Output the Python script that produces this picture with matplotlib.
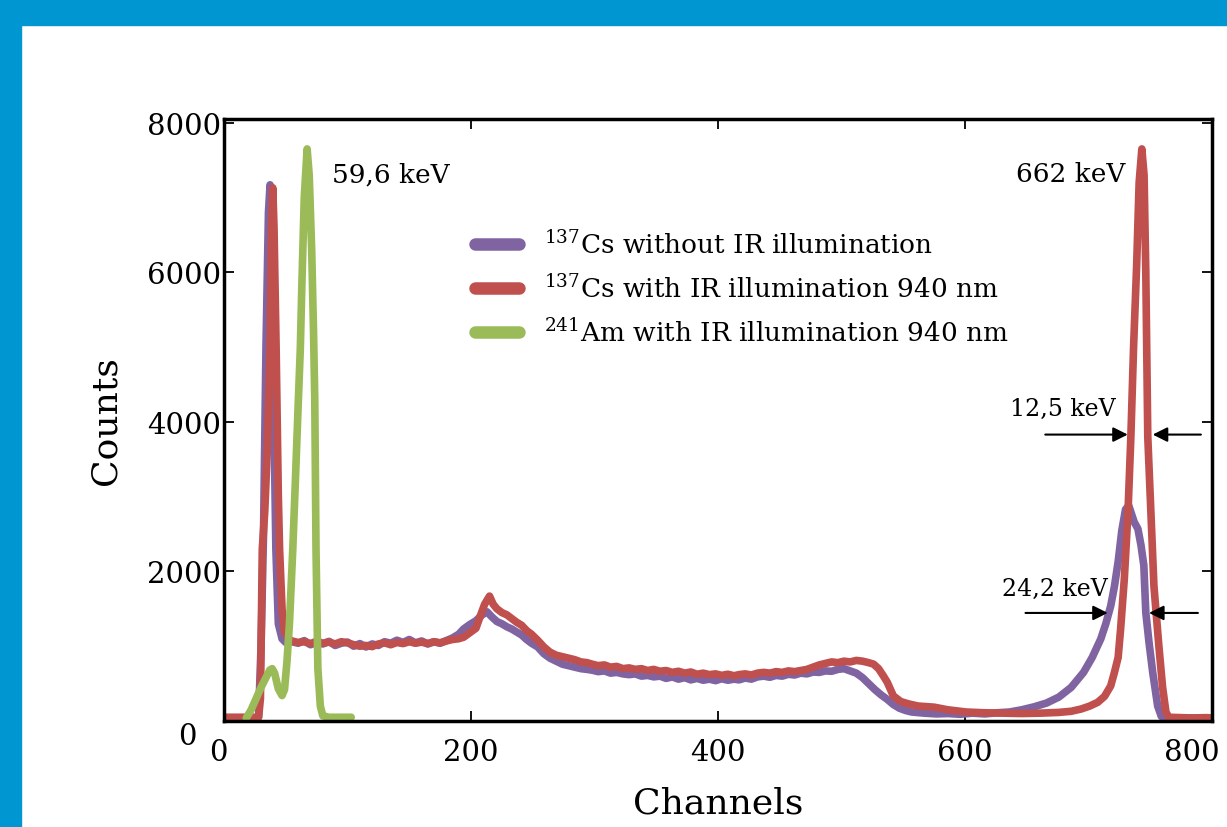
import numpy as np
import matplotlib
matplotlib.use('Agg')
import matplotlib.pyplot as plt
from matplotlib.patches import Rectangle
from matplotlib.transforms import ScaledTranslation

plt.rcParams['font.family'] = ['DejaVu Serif']
plt.rcParams['mathtext.fontset'] = 'dejavuserif'

# 137Cs without IR illumination (channel, counts)
cs_dark_ch = [0, 5, 10, 15, 20, 25, 28, 30, 32, 34, 36, 37.3, 38.5, 40, 42, 44, 47, 50,
              55, 60, 65, 70, 75, 80, 85, 90, 95, 100, 105, 110, 115, 120, 125, 130, 135,
              140, 145, 150, 155, 160, 165, 170, 175, 180, 185, 190, 194, 199, 204, 209,
              213, 217, 221, 225, 229, 233, 237, 241, 245, 249, 254, 259, 264, 269, 274,
              279, 284, 289, 294, 298, 303, 308, 313, 318, 323, 328, 333, 338, 343, 348,
              353, 358, 363, 368, 373, 378, 383, 388, 393, 398, 403, 408, 413, 417, 422,
              427, 432, 437, 442, 447, 452, 457, 462, 467, 472, 477, 482, 487, 492, 497,
              502, 507, 512, 517, 522, 527, 532, 537, 542, 547, 552, 557, 567, 577, 586,
              596, 606, 616, 626, 636, 646, 656, 666, 676, 686, 696, 703, 710, 714, 718,
              721, 724, 727, 730, 732.6, 735, 737, 740, 742.5, 744.8, 746.4, 749, 752, 756, 759,
              762, 770, 780, 790, 802]
cs_dark_counts = [40, 40, 40, 40, 40, 40, 50, 1000, 2500, 5000, 6800, 7170, 6500, 4500, 2300, 1300, 1100, 1050,
                  1060, 1040, 1075, 1020, 1050, 1030, 1065, 1010, 1040, 1055, 1000, 1035, 990, 1030, 1010, 1060, 1040,
                  1080, 1050, 1090, 1045, 1070, 1030, 1060, 1040, 1075, 1110, 1160, 1230, 1290, 1340, 1420,
                  1460, 1390, 1330, 1300, 1260, 1230, 1190, 1150, 1090, 1040, 990, 900, 840, 800, 760,
                  740, 720, 700, 690, 680, 660, 670, 640, 650, 630, 620, 630, 600, 610, 590,
                  600, 570, 590, 560, 580, 550, 570, 545, 560, 540, 565, 545, 560, 550, 575,
                  560, 590, 600, 585, 610, 600, 625, 615, 640, 630, 655, 650, 670, 665, 690,
                  700, 670, 640, 580, 500, 420, 350, 290, 220, 170, 140, 120, 105, 95, 100,
                  90, 105, 95, 110, 120, 150, 190, 240, 320, 450, 650, 850, 1100, 1300, 1540,
                  1800, 2130, 2550, 2830, 2880, 2760, 2660, 2570, 2350, 2080, 1450, 1050, 650, 200, 60,
                  40, 40, 40, 40, 40]

# 137Cs with IR illumination 940 nm
cs_ir_ch = [0, 5, 10, 15, 20, 25, 28, 29.5, 31, 33, 35, 37.3, 38.5, 39.5, 40.5, 42.2, 44, 45, 47, 49,
            52, 55, 60, 65, 70, 75, 80, 85, 90, 95, 100, 105, 110, 115, 120, 125, 130, 135,
            140, 145, 150, 155, 160, 165, 170, 175, 180, 185, 190, 194, 199, 204, 207, 211,
            215, 218, 221, 225, 229, 233, 237, 241, 245, 249, 254, 259, 264, 269, 274,
            279, 284, 289, 294, 298, 303, 308, 313, 318, 323, 328, 333, 338, 343, 348,
            353, 358, 363, 368, 373, 378, 383, 388, 393, 398, 403, 408, 413, 417, 422,
            427, 432, 437, 442, 447, 452, 457, 462, 467, 472, 477, 482, 487, 492, 497,
            502, 507, 512, 517, 522, 526, 530, 534, 537, 542, 548, 554, 562, 575, 586,
            601, 616, 631, 646, 661, 676, 686, 694, 701, 707.5, 713, 718, 721, 724, 726,
            729, 732, 734.3, 736.5, 739, 741, 743.2, 745, 746.4, 748, 750.5, 753, 757, 760, 762.7,
            765, 775, 785, 795, 802]
cs_ir_counts = [50, 50, 50, 50, 50, 50, 50, 300, 2300, 2800, 3600, 5000, 6600, 7130, 6600, 5000, 3000, 2300, 1500, 1190,
                1100, 1070, 1050, 1060, 1035, 1065, 1040, 1055, 1030, 1060, 1045, 1020, 1000, 1010, 995, 1030, 1045, 1020,
                1050, 1035, 1060, 1040, 1055, 1035, 1060, 1045, 1070, 1090, 1100, 1120, 1180, 1240, 1380, 1560,
                1670, 1560, 1500, 1450, 1420, 1370, 1320, 1280, 1210, 1160, 1080, 990, 920, 880, 860,
                840, 820, 790, 780, 760, 740, 750, 720, 730, 700, 710, 690, 700, 675, 690,
                665, 675, 650, 665, 640, 655, 625, 640, 620, 630, 610, 625, 605, 620, 630,
                615, 640, 650, 640, 660, 650, 670, 660, 675, 690, 720, 750, 770, 790, 780,
                800, 790, 810, 800, 780, 760, 700, 600, 520, 335, 260, 230, 200, 185, 150,
                120, 110, 105, 100, 105, 115, 130, 160, 200, 250, 330, 470, 650, 850, 1230,
                1900, 2800, 3800, 5000, 6100, 7200, 7650, 7300, 6000, 3800, 2800, 1800, 1000, 450, 120,
                50, 45, 40, 45, 40]

# 241Am with IR illumination 940 nm
am_ir_ch = [18, 22, 26, 30, 34, 37, 39, 41, 44, 47, 49, 51, 53, 55.7, 58, 60, 61.8, 63, 65,
            67.3, 69, 71, 72.5, 73.5, 74.5, 76, 78, 80, 85, 90, 95, 100, 103]
am_ir_counts = [40, 150, 300, 450, 580, 680, 700, 640, 430, 340, 420, 800, 1300, 2300, 3300, 4200, 4980, 5800, 7000,
                7650, 7300, 6300, 5200, 4300, 2300, 700, 200, 70, 50, 50, 50, 50, 50]

labels = [r'$^{137}$Cs without IR illumination',
          r'$^{137}$Cs with IR illumination 940 nm',
          r'$^{241}$Am with IR illumination 940 nm']
colors = ['#8064A2', '#C0504D', '#9BBB59']

fig = plt.figure(figsize=(12.27, 8.28), dpi=100)
fig.patches.append(Rectangle((0, 1 - 26 / 828), 1, 26 / 828, transform=fig.transFigure,
                             color='#0096D2', zorder=0))
fig.patches.append(Rectangle((0, 0), 21 / 1227, 1, transform=fig.transFigure,
                             color='#0096D2', zorder=0))

ax = fig.add_axes([224 / 1227, 1 - 722 / 828, 988 / 1227, 602 / 828])

series = [(cs_dark_ch, cs_dark_counts), (cs_ir_ch, cs_ir_counts), (am_ir_ch, am_ir_counts)]
for (ch, cnt), lab, col in zip(series, labels, colors):
    ax.plot(ch, cnt, color=col, lw=5.5, label=lab, solid_capstyle='round',
            solid_joinstyle='round')

ax.set_xlim(0, 800)
ax.set_ylim(0, 8050)
ax.set_xticks([0, 200, 400, 600, 800])
ax.set_yticks([0, 2000, 4000, 6000, 8000])
ax.tick_params(direction='in', length=7, width=1.3, top=True, right=True, labelsize=21)
ax.tick_params(axis='x', pad=12)
ax.tick_params(axis='y', pad=2)
for sp in ax.spines.values():
    sp.set_linewidth(2.5)

# the end labels sit a little inside / below in the original
def shift(lbl, dx, dy):
    lbl.set_transform(lbl.get_transform() + ScaledTranslation(dx / 100, dy / 100, fig.dpi_scale_trans))

xt = ax.xaxis.get_major_ticks()
shift(xt[0].label1, -6, 0)
shift(xt[-1].label1, -20, 0)
yt = ax.yaxis.get_major_ticks()
shift(yt[0].label1, -25, -12)

ax.set_xlabel('Channels', fontsize=26, labelpad=14)
ax.set_ylabel('Counts', fontsize=26, labelpad=18)

leg = ax.legend(loc='upper left', bbox_to_anchor=(475 / 1227, 1 - 231 / 828),
                bbox_transform=fig.transFigure, frameon=False, fontsize=19,
                handlelength=1.65, handletextpad=0.95, labelspacing=0.62,
                borderpad=0, borderaxespad=0)
for h in leg.get_lines():
    h.set_linewidth(9)
    h.set_solid_capstyle('round')

ax.text(87.6, 7320, '59,6 keV', fontsize=19, va='center', ha='left')
ax.text(730, 7320, '662 keV', fontsize=19, va='center', ha='right')
ax.text(679, 4180, '12,5 keV', fontsize=17, va='center', ha='center')
ax.text(673, 1770, '24,2 keV', fontsize=17, va='center', ha='center')

arrow = dict(arrowstyle='-|>', color='black', lw=1.5, mutation_scale=22, shrinkA=0, shrinkB=0)
ax.annotate('', xy=(731.8, 3830), xytext=(665, 3830), arrowprops=arrow)
ax.annotate('', xy=(752, 3830), xytext=(791, 3830), arrowprops=arrow)
ax.annotate('', xy=(715.6, 1445), xytext=(649, 1445), arrowprops=arrow)
ax.annotate('', xy=(749, 1445), xytext=(788.6, 1445), arrowprops=arrow)

fig.savefig('out.png', dpi=100)
